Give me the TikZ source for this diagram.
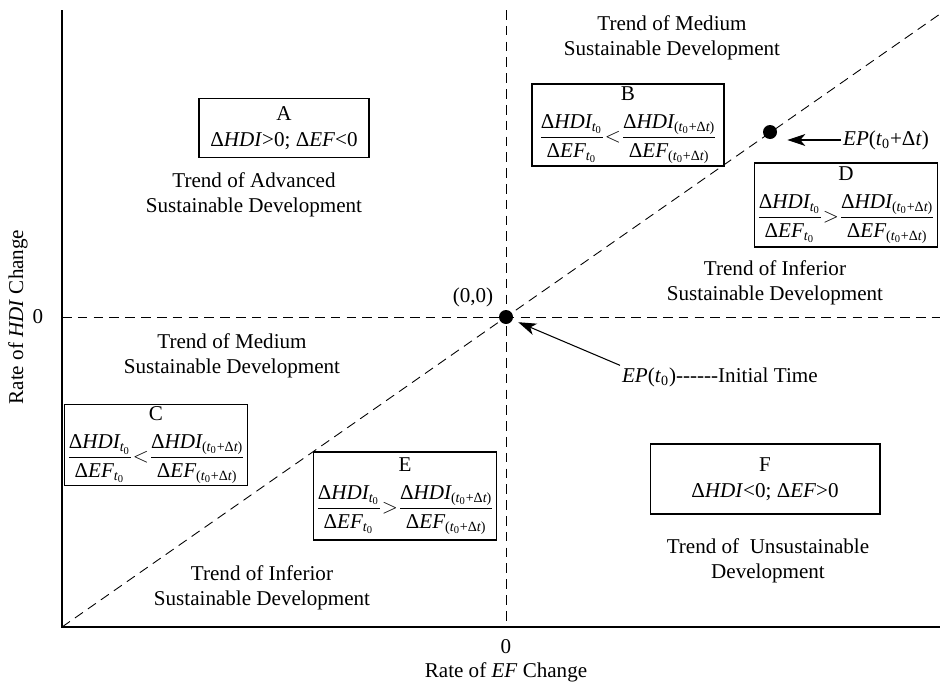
\documentclass[tikz,border=0pt]{standalone}
\usepackage{amsmath}
\usepackage{fontspec}
\setmainfont{Liberation Serif}
\usetikzlibrary{arrows.meta}

\newcommand{\tn}{\textit{t}_{\text{0}}}
\newcommand{\tdt}{\text{(}\tn\text{+Δ}\textit{t}\text{)}}
\newcommand{\dH}{\text{Δ}\textit{HDI}}
\newcommand{\dE}{\text{Δ}\textit{EF}}
\newcommand{\fracpair}[1]{$\dfrac{\dH_{\tn}}{\dE_{\tn}}{#1}\dfrac{\dH_{\tdt}}{\dE_{\tdt}}$}

\begin{document}
\begin{tikzpicture}[x=0.02cm, y=-0.02cm, font=\fontsize{12}{14.5}\selectfont,
  cbox/.style={draw, line width=0.6pt, align=center, inner sep=1pt},
  trend/.style={align=center},
  guide/.style={dash pattern=on 5.5pt off 3.5pt, line width=0.5pt},
  epdot/.style={circle, fill, inner sep=0pt, minimum size=0.28cm},
  pointer/.style={-{Stealth[length=0.36cm, width=0.24cm, inset=0.1cm]}, line width=0.6pt}]

 \useasboundingbox (0,0) rectangle (940,687);

 % axes
 \coordinate (ytop) at (62,10);
 \coordinate (corner) at (62,627);
 \coordinate (xend) at (940,627);
 \draw [line width=0.7pt] (ytop) -- (corner) -- (xend);

 % quadrant lines and the diagonal
 \coordinate (vtop) at (506,10);
 \coordinate (vbot) at (506,627);
 \coordinate (hleft) at (62,317);
 \coordinate (hright) at (940,317);
 \coordinate (dend) at (940,14);
 \draw [guide] (vtop) -- (vbot);
 \draw [guide] (hleft) -- (hright);
 \draw [guide] (corner) -- (dend);

 \node (o) at (506,317) [epdot] {};
 \node (p1) at (770,132) [epdot] {};
 \node (olab) at (473,297) {(0,0)};
 \node (zy) at (38,317) {0};
 \node (zx) at (506,647) {0};
 \node (xlab) at (506,672) {Rate of \textit{EF} Change};
 \node (ylab) at (18,317) [rotate=90] {Rate of \textit{HDI} Change};

 % boxes
 \node (boxA) at (284,128) [cbox, minimum width=3.4cm, minimum height=1.18cm] {A\\Δ\textit{HDI}>0; Δ\textit{EF}<0};
 \node (boxB) at (628,125) [cbox, minimum width=3.84cm, minimum height=1.64cm] {B\\[7pt]\fracpair{<}};
 \node (boxD) at (846,205) [cbox, minimum width=3.6cm, minimum height=1.68cm] {D\\[7pt]\fracpair{>}};
 \node (boxC) at (156,445) [cbox, minimum width=3.5cm, minimum height=1.58cm] {C\\[7pt]\fracpair{<}};
 \node (boxE) at (405,496) [cbox, minimum width=3.6cm, minimum height=1.76cm] {E\\[7pt]\fracpair{>}};
 \node (boxF) at (765,479) [cbox, minimum width=4.6cm, minimum height=1.4cm] {F\\Δ\textit{HDI}<0; Δ\textit{EF}>0};

 % trends
 \node (tmedU) at (672,38) [trend] {Trend of Medium\\Sustainable Development};
 \node (tadv) at (254,195) [trend] {Trend of Advanced\\Sustainable Development};
 \node (tinfU) at (775,283) [trend] {Trend of Inferior\\Sustainable Development};
 \node (tmedL) at (232,356) [trend] {Trend of Medium\\Sustainable Development};
 \node (tinfL) at (262,588) [trend] {Trend of Inferior\\Sustainable Development};
 \node (tuns) at (768,561) [trend] {Trend of~ Unsustainable\\Development};

 % points in time
 \node (ep1) at (841,140) [anchor=west, inner sep=1pt] {\textit{EP}(\textit{t}\textsubscript{0}+Δ\textit{t})};
 \node (ep0) at (620,377) [anchor=west, inner sep=1pt] {\textit{EP}(\textit{t}\textsubscript{0})-{}-{}-{}-{}-{}-Initial Time};
 \draw [pointer, shorten >=0.2cm] (ep1.west) -- (ep1.west -| p1.east);
 \draw [pointer, shorten >=0.12cm] (ep0.north west) -- (o);
\end{tikzpicture}
\end{document}
